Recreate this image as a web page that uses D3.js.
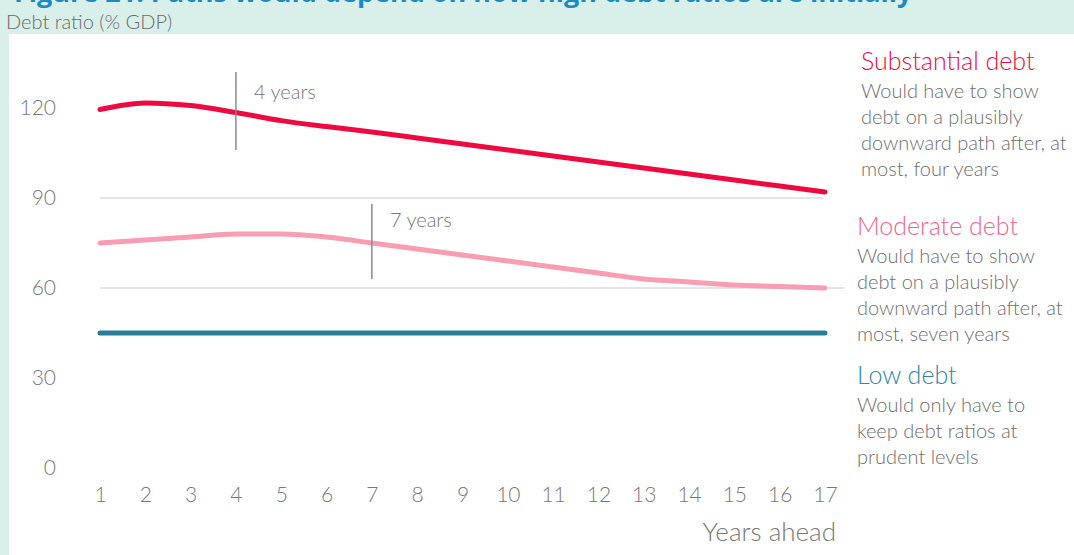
<!DOCTYPE html>
<html>
<head>
<meta charset="utf-8">
<script src="https://cdn.jsdelivr.net/npm/d3@7"></script>
<style>
  body { margin: 0; background: #fff; }
  svg { display: block; font-family: Lato, "Open Sans", sans-serif; }
</style>
</head>
<body>
<svg id="chart" width="1074" height="555"></svg>
<script>
const svgEl = document.getElementById("chart")
const width = +svgEl.getAttribute('width')
const height = +svgEl.getAttribute('height')
var svg = d3.select('#chart')

// dati
const anni = d3.range(1, 18)
const sostanziale = [119.5, 121.7, 120.8, 118.5, 115.8, 113.8, 112, 110, 108, 106, 104, 102, 100, 98, 96, 94, 92]
const moderato = [75, 76, 77, 78, 78, 77, 75, 73, 71, 69, 67, 65, 63, 62, 61, 60.5, 60]
const basso = [45, 45, 45, 45, 45, 45, 45, 45, 45, 45, 45, 45, 45, 45, 45, 45, 45]
const tickY = [0, 30, 60, 90, 120]
const griglia = [60, 90]

var rosso = "#ee0a40"
var rosa = "#f99db2"
var rosa_testo = "#f4638c"
var verde = "#2a7d97"
var verde_testo = "#2f87a1"
var grigio = "#777"

// sfondo
svg.append("rect").attr("width", width).attr("height", height).attr("fill", "#d9efe9")
svg.append("rect").attr("x", 9).attr("y", 34).attr("width", width - 9).attr("height", height - 34).attr("fill", "#fff")

// titolo (tagliato in alto come nell'originale)
svg.append("text").attr("x", 14).attr("y", 2)
  .attr("font-size", "27px").attr("font-weight", "bold").attr("fill", "#1a8bc2")
  .attr("font-family", "'Open Sans', sans-serif")
  .text("Figure 21: Paths would depend on how high debt ratios are initially")

svg.append("text").attr("x", 6).attr("y", 29)
  .attr("font-size", "20px").attr("fill", "#6a6a6a").attr("font-weight", 300).text("Debt ratio (% GDP)")

var x = d3.scaleLinear().domain([1, 17]).range([100, 825])
var y = d3.scaleLinear().domain([0, 120]).range([468, 108])

// griglia
svg.selectAll("line.grid").data(griglia).enter()
  .append("line").attr("class", "grid")
  .attr("x1", x(1)).attr("x2", d => d == 60 ? 845 : 823)
  .attr("y1", d => y(d)).attr("y2", d => y(d))
  .attr("stroke", "#dcdcdc").attr("stroke-width", 1.5)

// assi
var asseY = d3.axisLeft(y).tickValues(tickY).tickSize(0).tickPadding(0)
svg.append("g").attr("transform", "translate(56,0)").call(asseY)
  .call(g => g.select(".domain").remove())
  .selectAll("text").attr("font-size", "21px").attr("fill", grigio)
  .attr("font-family", "Lato, sans-serif").attr("font-weight", 300)

var asseX = d3.axisBottom(x).tickValues(anni).tickSize(0).tickPadding(0)
svg.append("g").attr("transform", "translate(0,487)").call(asseX)
  .call(g => g.select(".domain").remove())
  .selectAll("text").attr("font-size", "21px").attr("fill", grigio)
  .attr("font-family", "Lato, sans-serif").attr("font-weight", 300)

svg.append("text").attr("x", 836).attr("y", 541).attr("text-anchor", "end")
  .attr("font-size", "26px").attr("fill", grigio).attr("font-weight", 300).text("Years ahead")

// linee
var linea = d3.line().x((d, i) => x(anni[i])).y(d => y(d)).curve(d3.curveMonotoneX)
const serie = [
  { valori: basso, colore: verde },
  { valori: moderato, colore: rosa },
  { valori: sostanziale, colore: rosso }
]
svg.selectAll("path.serie").data(serie).enter()
  .append("path").attr("class", "serie")
  .attr("d", d => linea(d.valori))
  .attr("fill", "none").attr("stroke", d => d.colore)
  .attr("stroke-width", 5).attr("stroke-linecap", "round").attr("stroke-linejoin", "round")

// annotazioni
const note = [
  { anno: 4, y1: 132, y2: 106, testo: "4 years", ty: 123 },
  { anno: 7, y1: 88, y2: 63, testo: "7 years", ty: 80.5 }
]
note.forEach(n => {
  svg.append("line").attr("x1", x(n.anno)).attr("x2", x(n.anno))
    .attr("y1", y(n.y1)).attr("y2", y(n.y2))
    .attr("stroke", "#8a8a8a").attr("stroke-width", 1.5)
  svg.append("text").attr("x", x(n.anno) + 18).attr("y", y(n.ty))
    .attr("font-size", "20px").attr("fill", grigio).attr("font-weight", 300).text(n.testo)
})

// legenda
const legenda = [
  { titolo: "Substantial debt", colore: rosso, x: 861, y: 70,
    righe: ["Would have to show", "debt on a plausibly", "downward path after, at", "most, four years"] },
  { titolo: "Moderate debt", colore: rosa_testo, x: 857, y: 235,
    righe: ["Would have to show", "debt on a plausibly", "downward path after, at", "most, seven years"] },
  { titolo: "Low debt", colore: verde_testo, x: 857, y: 384,
    righe: ["Would only have to", "keep debt ratios at", "prudent levels"] }
]
legenda.forEach(l => {
  svg.append("text").attr("x", l.x).attr("y", l.y)
    .attr("font-size", "25px").attr("fill", l.colore).attr("font-weight", 300).text(l.titolo)
  l.righe.forEach((r, i) => {
    svg.append("text").attr("x", l.x).attr("y", l.y + 28 + i * 26)
      .attr("font-size", "20px").attr("fill", "#6e6e6e").attr("font-weight", 300).text(r)
  })
})
</script>
</body>
</html>
